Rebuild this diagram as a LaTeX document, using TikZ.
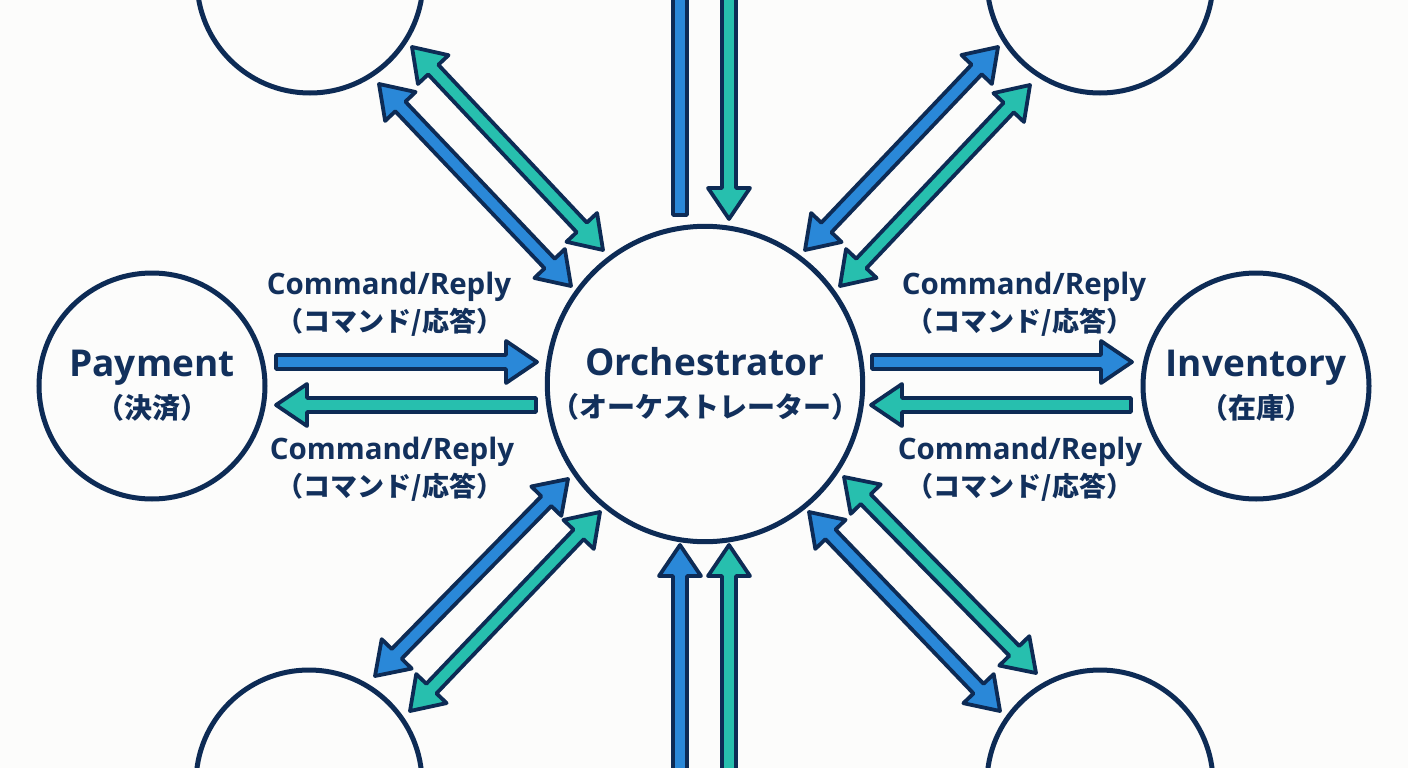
\documentclass[tikz,border=0pt]{standalone}
\usepackage{fontspec}
\setmainfont{Open Sans}
\newfontfamily\jpfont{Noto Sans CJK JP}
\usetikzlibrary{calc}
\definecolor{navy}{HTML}{0D2B55}
\definecolor{txtnavy}{HTML}{12305C}
\definecolor{cmdblue}{HTML}{2A88D8}
\definecolor{replyteal}{HTML}{27BFAE}
\definecolor{bgpaper}{HTML}{FCFCFB}
\newcommand\hw{7pt}
\newcommand\hh{21pt}
\newcommand\hl{31pt}
% double-headed fat arrow between two named coordinates
\newcommand\fatdbl[3]{%
  \coordinate (#2-a) at ($(#2)!\hl!(#3)$);
  \coordinate (#2-b) at ($(#3)!\hl!(#2)$);
  \filldraw[arrowline, fill=#1]
   (#2) -- ($(#2-a)!\hh!90:(#3)$) -- ($(#2-a)!\hw!90:(#3)$)
   -- ($(#2-b)!\hw!90:(#3)$) -- ($(#2-b)!\hh!90:(#3)$) -- (#3)
   -- ($(#2-b)!\hh!-90:(#3)$) -- ($(#2-b)!\hw!-90:(#3)$)
   -- ($(#2-a)!\hw!-90:(#3)$) -- ($(#2-a)!\hh!-90:(#3)$) -- cycle;
}
% single-headed fat arrow, tip at #3
\newcommand\fatsgl[3]{%
  \coordinate (#3-b) at ($(#3)!\hl!(#2)$);
  \filldraw[arrowline, fill=#1]
   ($(#2)!\hw!90:(#3)$) -- ($(#3-b)!\hw!90:(#3)$) -- ($(#3-b)!\hh!90:(#3)$) -- (#3)
   -- ($(#3-b)!\hh!-90:(#3)$) -- ($(#3-b)!\hw!-90:(#3)$) -- ($(#2)!\hw!-90:(#3)$) -- cycle;
}
\newcommand\jpline[1]{{\jpfont\fontsize{28}{32}\selectfont\bfseries #1}}
\tikzset{
  arrowline/.style={draw=navy, line width=3.8pt, line join=round},
  svc/.style={circle, draw=navy, line width=5pt, fill=bgpaper, minimum size=226pt, inner sep=0pt, align=center, text=txtnavy, font=\fontsize{37}{42}\selectfont\bfseries},
  hub/.style={svc, minimum size=313pt},
  lbl/.style={text=txtnavy, inner sep=0pt, font=\fontsize{29.5}{34}\selectfont\bfseries},
  lbljp/.style={text=txtnavy, inner sep=0pt, font=\jpfont\fontsize{27}{30}\selectfont\bfseries},
}
\begin{document}
\begin{tikzpicture}[x=1pt, y=-1pt]
\useasboundingbox (0,0) rectangle (1408,768);
\fill[bgpaper] (0,0) rectangle (1408,768);
\clip (0,0) rectangle (1408,768);

% circles
\node[hub] (orch) at (705,384) {Orchestrator\\\jpline{（オーケストレーター）}};
\node[svc] (pay) at (152,386) {Payment\\\jpline{（決済）}};
\node[svc] (inv) at (1256,386) {Inventory\\\jpline{（在庫）}};
\node[svc] (tl) at (310,-20) {};
\node[svc] (tr) at (1100,-20) {};
\node[svc] (bl) at (309,783) {};
\node[svc] (br) at (1100,783) {};

% arrow end points
\coordinate (pB1) at (276,362);  \coordinate (pB2) at (537,362);
\coordinate (pT1) at (536,405);  \coordinate (pT2) at (276,405);
\coordinate (iB1) at (872,362);  \coordinate (iB2) at (1132,362);
\coordinate (iT1) at (1131,405); \coordinate (iT2) at (871,405);
\coordinate (tB1) at (680,215);  \coordinate (tB2) at (680,-90);
\coordinate (tT1) at (729,-90);  \coordinate (tT2) at (729,219);
\coordinate (bB1) at (680,860);  \coordinate (bB2) at (680,545);
\coordinate (bT1) at (729,860);  \coordinate (bT2) at (729,545);
\coordinate (ulB1) at (379,84);   \coordinate (ulB2) at (571,286);
\coordinate (ulT1) at (412,47);   \coordinate (ulT2) at (603,250);
\coordinate (urB1) at (998,47);   \coordinate (urB2) at (805,250);
\coordinate (urT1) at (1030,85);  \coordinate (urT2) at (840,286);
\coordinate (llB1) at (568,479);  \coordinate (llB2) at (375,676);
\coordinate (llT1) at (600,512);  \coordinate (llT2) at (410,711);
\coordinate (lrB1) at (809,512);  \coordinate (lrB2) at (1000,711);
\coordinate (lrT1) at (844,477);  \coordinate (lrT2) at (1036,673);

% horizontal
\fatsgl{cmdblue}{pB1}{pB2}
\fatsgl{replyteal}{pT1}{pT2}
\fatsgl{cmdblue}{iB1}{iB2}
\fatsgl{replyteal}{iT1}{iT2}
% vertical
\fatsgl{cmdblue}{tB1}{tB2}
\fatsgl{replyteal}{tT1}{tT2}
\fatsgl{cmdblue}{bB1}{bB2}
\fatsgl{replyteal}{bT1}{bT2}
% diagonals
\fatdbl{cmdblue}{ulB1}{ulB2}
\fatdbl{replyteal}{ulT1}{ulT2}
\fatdbl{cmdblue}{urB1}{urB2}
\fatdbl{replyteal}{urT1}{urT2}
\fatdbl{cmdblue}{llB1}{llB2}
\fatdbl{replyteal}{llT1}{llT2}
\fatdbl{cmdblue}{lrB1}{lrB2}
\fatdbl{replyteal}{lrT1}{lrT2}

% labels
\node[lbl] (l1) at (389,287) {Command/Reply};
\node[lbljp] (l1j) at (390,322) {（コマンド/応答）};
\node[lbl] (l2) at (392,452) {Command/Reply};
\node[lbljp] (l2j) at (390,487) {（コマンド/応答）};
\node[lbl] (r1) at (1024,287) {Command/Reply};
\node[lbljp] (r1j) at (1020,322) {（コマンド/応答）};
\node[lbl] (r2) at (1020,452) {Command/Reply};
\node[lbljp] (r2j) at (1020,487) {（コマンド/応答）};
\end{tikzpicture}
\end{document}
